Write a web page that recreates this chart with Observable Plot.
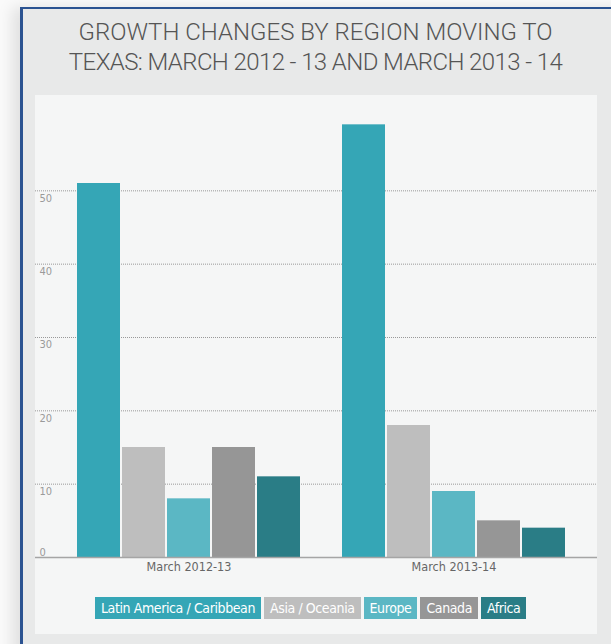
<!DOCTYPE html>
<html><head><meta charset="utf-8">
<script src="https://cdn.jsdelivr.net/npm/d3@7"></script>
<script src="https://cdn.jsdelivr.net/npm/@observablehq/plot@0.6"></script>
<style>
html,body{margin:0;padding:0}
body{background:#fafafa;width:611px;height:644px;overflow:hidden;position:relative;font-family:Roboto,sans-serif}
#frame{position:absolute;left:20px;top:7px;width:610px;height:660px;background:#e8e9e9;border-left:3px solid #2b5391;border-top:2px solid #2b5391;box-shadow:-8px 0 14px rgba(0,0,0,0.10)}
#title{position:absolute;left:20px;width:591px;top:17px;text-align:center;font-family:Roboto,sans-serif;font-weight:300;font-size:24px;line-height:30px;color:#555}
#title .l2{letter-spacing:-0.6px}
#panel{position:absolute;left:35px;top:95px;width:562px;height:539px;background:#f5f6f6}
#grid,#chart{position:absolute;left:0;top:0}
#legend{position:absolute;left:60px;top:502px;display:flex;gap:3px;font-family:'Liberation Sans Narrow','DejaVu Sans Condensed',sans-serif;font-size:14px;letter-spacing:-0.4px}
#legend span{display:block;color:#fff;height:22px;line-height:22px;padding:0 6px}
</style>
</head><body>
<div id="frame"></div>
<div id="title">GROWTH CHANGES BY REGION MOVING TO<br><span class="l2">TEXAS: MARCH 2012 - 13 AND MARCH 2013 - 14</span></div>
<div id="panel"><div id="grid"></div><div id="chart"></div><div id="legend"></div></div>
<script>
const periods = ["March 2012-13", "March 2013-14"];
const regions = ["Latin America / Caribbean", "Asia / Oceania", "Europe", "Canada", "Africa"];
const colors = ["#35a6b6", "#bebebe", "#5bb7c4", "#969696", "#2a7d86"];
const values2012_13 = [51, 15, 8, 15, 11];
const values2013_14 = [59, 18, 9, 5, 4];
const yTicks = [0, 10, 20, 30, 40, 50];

const data = [];
regions.forEach((r, i) => {
  data.push({period: periods[0], region: r, value: values2012_13[i]});
  data.push({period: periods[1], region: r, value: values2013_14[i]});
});

const W = 562, H = 490, MT = 22, MB = 28;
const font = "'Liberation Sans Narrow','DejaVu Sans Condensed',sans-serif";

// background layer: gridlines and y tick labels (same y scale as the bars)
const grid = Plot.plot({
  width: W, height: H, marginLeft: 0, marginRight: 0, marginTop: MT, marginBottom: MB,
  style: {background: "transparent", fontFamily: font},
  y: {domain: [0, 60], axis: null},
  marks: [
    Plot.ruleY(yTicks.filter(d => d > 0), {stroke: "#999", strokeDasharray: "1,1"}),
    Plot.text(yTicks.filter(d => d > 0), {y: d => d, text: d => d, frameAnchor: "left", textAnchor: "start", dx: 4, lineAnchor: "top", dy: 3, fill: "#9a9a9a", fontSize: 11}),
    Plot.text(yTicks.filter(d => d === 0), {y: d => d, text: d => d, frameAnchor: "left", textAnchor: "start", dx: 4, lineAnchor: "bottom", dy: -2, fill: "#9a9a9a", fontSize: 11})
  ]
});
document.getElementById("grid").appendChild(grid);

const chart = Plot.plot({
  width: W, height: H, marginLeft: 0, marginRight: 0, marginTop: MT, marginBottom: MB,
  style: {background: "transparent", fontFamily: font},
  fx: {domain: periods, paddingInner: 0.1504, paddingOuter: 0.1316, align: 0.57, label: null},
  x: {domain: regions, paddingInner: 0.045, paddingOuter: 0, axis: null},
  y: {domain: [0, 60], axis: null},
  color: {domain: regions, range: colors},
  marks: [
    Plot.barY(data, {fx: "period", x: "region", y: "value", fill: "region"}),
    Plot.axisFx({anchor: "bottom", tickSize: 0, tickPadding: 5, fontSize: 12.5, fill: "#666", label: null})
  ]
});
document.getElementById("chart").appendChild(chart);

// full-width baseline on top
const base = Plot.plot({
  width: W, height: H, marginLeft: 0, marginRight: 0, marginTop: MT, marginBottom: MB,
  style: {background: "transparent"},
  y: {domain: [0, 60], axis: null},
  marks: [Plot.ruleY([0], {stroke: "#a5a5a5", strokeWidth: 1.5})]
});
base.style.position = "absolute"; base.style.left = "0"; base.style.top = "0"; base.style.pointerEvents = "none";
document.getElementById("panel").appendChild(base);

const legend = document.getElementById("legend");
regions.forEach((r, i) => {
  const s = document.createElement("span");
  s.textContent = r;
  s.style.background = colors[i];
  legend.appendChild(s);
});
</script>
</body></html>
